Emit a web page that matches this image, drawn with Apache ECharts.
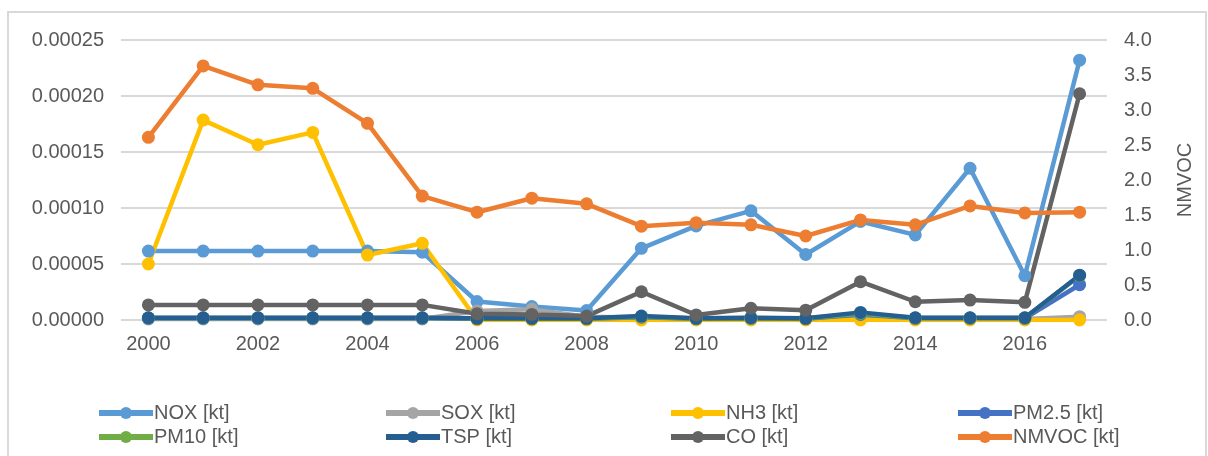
<!DOCTYPE html>
<html>
<head>
<meta charset="utf-8">
<script src="https://cdn.jsdelivr.net/npm/echarts@6/dist/echarts.min.js"></script>
<style>
  html, body { margin: 0; padding: 0; background: #fff; }
  #chart { width: 1208px; height: 456px; }
</style>
</head>
<body>
<div id="chart"></div>
<script>
// Years on the category axis
const years = ['2000','2001','2002','2003','2004','2005','2006','2007','2008',
               '2009','2010','2011','2012','2013','2014','2015','2016','2017'];

// Emissions per pollutant, left axis
const nox  = [0.0000615,0.0000615,0.0000615,0.0000615,0.0000615,0.0000605,0.0000165,0.0000120,0.0000085,
              0.0000640,0.0000840,0.0000975,0.0000585,0.0000880,0.0000760,0.0001355,0.0000395,0.0002320];
const sox  = [0.0000010,0.0000010,0.0000010,0.0000010,0.0000010,0.0000010,0.0000080,0.0000095,0.0000030,
              0.0000020,0.0000010,0.0000010,0.0000010,0.0000015,0.0000010,0.0000010,0.0000010,0.0000030];
const nh3  = [0.0000500,0.0001785,0.0001565,0.0001675,0.0000580,0.0000685,0,0,0,
              0,0,0,0,0,0,0,0,0];
const pm25 = [0.0000015,0.0000015,0.0000015,0.0000015,0.0000015,0.0000015,0.0000012,0.0000012,0.0000012,
              0.0000025,0.0000012,0.0000015,0.0000012,0.0000050,0.0000015,0.0000015,0.0000015,0.0000315];
const pm10 = [0.0000018,0.0000018,0.0000018,0.0000018,0.0000018,0.0000018,0.0000014,0.0000014,0.0000014,
              0.0000030,0.0000014,0.0000018,0.0000014,0.0000058,0.0000018,0.0000018,0.0000018,0.0000395];
const tsp  = [0.0000020,0.0000020,0.0000020,0.0000020,0.0000020,0.0000020,0.0000015,0.0000015,0.0000015,
              0.0000035,0.0000015,0.0000020,0.0000015,0.0000068,0.0000020,0.0000020,0.0000020,0.0000400];
const co   = [0.0000135,0.0000135,0.0000135,0.0000135,0.0000135,0.0000135,0.0000055,0.0000050,0.0000035,
              0.0000252,0.0000045,0.0000105,0.0000088,0.0000342,0.0000163,0.0000178,0.0000158,0.0002020];

// NMVOC, right axis
const nmvoc = [2.61,3.63,3.36,3.31,2.81,1.77,1.54,1.74,1.66,
               1.34,1.39,1.36,1.20,1.43,1.36,1.63,1.53,1.54];

const FONT = "'Liberation Sans', Arial, sans-serif";
const TXT = '#595959';
const FS = 20;

function lineSeries(name, data, color, axis) {
  return {
    name: name,
    type: 'line',
    yAxisIndex: axis || 0,
    data: data,
    symbol: 'circle',
    symbolSize: 13,
    lineStyle: { width: 4.5, color: color },
    itemStyle: { color: color },
    emphasis: { disabled: true }
  };
}

const series = [
  lineSeries('NOX [kt]', nox, '#5B9BD5'),
  lineSeries('SOX [kt]', sox, '#A5A5A5'),
  lineSeries('NH3 [kt]', nh3, '#FFC000'),
  lineSeries('PM2.5 [kt]', pm25, '#4472C4'),
  lineSeries('PM10 [kt]', pm10, '#70AD47'),
  lineSeries('TSP [kt]', tsp, '#255E91'),
  lineSeries('CO [kt]', co, '#636363'),
  lineSeries('NMVOC [kt]', nmvoc, '#ED7D31', 1)
];

// Four legend columns, two rows each
const legendCols = [
  { left: 96,  data: ['NOX [kt]', 'PM10 [kt]'] },
  { left: 383, data: ['SOX [kt]', 'TSP [kt]'] },
  { left: 668, data: ['NH3 [kt]', 'CO [kt]'] },
  { left: 955, data: ['PM2.5 [kt]', 'NMVOC [kt]'] }
];

const option = {
  animation: false,
  textStyle: { fontFamily: FONT },
  graphic: [{
    type: 'rect',
    shape: { x: 8, y: 12, width: 1198, height: 460 },
    style: { fill: 'none', stroke: '#D9D9D9', lineWidth: 2 },
    silent: true
  }],
  grid: { left: 121, right: 101, top: 40, bottom: 136 },
  legend: legendCols.map(c => ({
    orient: 'vertical',
    left: c.left,
    top: 403,
    padding: 0,
    itemWidth: 54,
    itemHeight: 15,
    itemGap: 4,
    data: c.data,
    selectedMode: false,
    lineStyle: { width: 6 },
    textStyle: { color: TXT, fontSize: FS, fontFamily: FONT, padding: [0, 0, 0, -4] }
  })),
  xAxis: {
    type: 'category',
    data: years,
    boundaryGap: true,
    axisLine: { show: false },
    axisTick: { show: false },
    axisLabel: { interval: 1, color: TXT, fontSize: FS, margin: 14, fontFamily: FONT }
  },
  yAxis: [{
    type: 'value',
    min: 0,
    max: 0.00025,
    interval: 0.00005,
    axisLine: { show: false },
    axisTick: { show: false },
    splitLine: { lineStyle: { color: '#D9D9D9', width: 2 } },
    axisLabel: { color: TXT, fontSize: FS, margin: 17, fontFamily: FONT,
                 formatter: v => v.toFixed(5) }
  }, {
    type: 'value',
    min: 0,
    max: 4,
    interval: 0.5,
    position: 'right',
    name: 'NMVOC',
    nameLocation: 'middle',
    nameRotate: 90,
    nameGap: 68,
    nameTextStyle: { color: TXT, fontSize: FS, fontFamily: FONT },
    axisLine: { show: false },
    axisTick: { show: false },
    splitLine: { show: false },
    axisLabel: { color: TXT, fontSize: FS, margin: 17, fontFamily: FONT,
                 formatter: v => v.toFixed(1) }
  }],
  series: series
};

const chart = echarts.init(document.getElementById('chart'), null, { renderer: 'canvas' });
chart.setOption(option);
</script>
</body>
</html>
